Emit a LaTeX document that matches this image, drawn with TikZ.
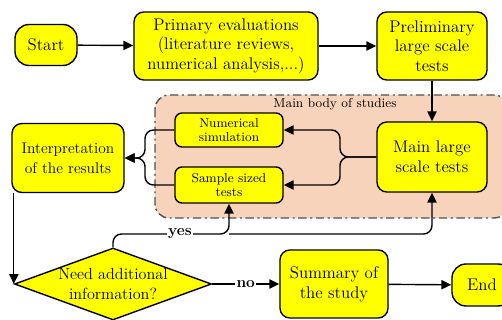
\documentclass[tikz,border=0pt]{standalone}
\usepackage{tikz}
\usetikzlibrary{arrows.meta,shapes.geometric,positioning,calc}
\definecolor{boxYellow}{RGB}{255,255,0}
\definecolor{studyPeach}{RGB}{248,211,188}
\definecolor{frameGray}{RGB}{80,80,80}
\tikzset{
  flowBox/.style={
    rectangle, rounded corners=7pt, draw=black, line width=1pt,
    fill=boxYellow, align=center, inner sep=2pt,
    font=\fontsize{12}{14}\selectfont
  },
  smallBox/.style={flowBox, rounded corners=5pt, font=\fontsize{9.2}{10.5}\selectfont},
  termBox/.style={flowBox, rounded corners=10pt},
  decisionBox/.style={
    diamond, draw=black, line width=1pt, fill=boxYellow, align=center,
    inner sep=0pt, aspect=2.7, font=\fontsize{11.5}{14}\selectfont
  },
  flowArrow/.style={-{Triangle[length=7pt,width=6.5pt]}, line width=1pt, color=black},
  answerLabel/.style={fill=white, inner sep=1pt, font=\fontsize{11}{12}\selectfont\bfseries}
}
\begin{document}
\begin{tikzpicture}
  \useasboundingbox (0,0) rectangle (12.55,-8);
  % main body frame
  \draw[fill=studyPeach, draw=frameGray, line width=1pt, rounded corners=10pt,
        dash pattern=on 6pt off 2.5pt on 1.5pt off 2.5pt]
    (3.875,-2.375) rectangle (12.7,-5.45);
  \node[font=\fontsize{9.2}{10.5}\selectfont] (bodylbl) at (8.375,-2.6) {Main body of studies};

  \node[termBox, minimum width=1.55cm, minimum height=1.025cm] (start) at (1.15,-1.125) {Start};
  \node[flowBox, minimum width=4.6cm, minimum height=1.7cm] (prim) at (5.65,-1.15)
    {Primary evaluations\\(literature reviews,\\numerical analysis,...)};
  \node[flowBox, minimum width=2.75cm, minimum height=1.7cm] (prel) at (10.8,-1.15)
    {Preliminary\\large scale\\tests};
  \node[flowBox, minimum width=2.75cm, minimum height=1.75cm] (mainlt) at (10.8,-3.925)
    {Main large\\scale tests};
  \node[smallBox, minimum width=2.7cm, minimum height=0.85cm] (numsim) at (5.725,-3.25)
    {Numerical\\simulation};
  \node[smallBox, minimum width=2.7cm, minimum height=0.9cm] (samp) at (5.725,-4.625)
    {Sample sized\\tests};
  \node[flowBox, minimum width=2.8cm, minimum height=1.725cm,
        font=\fontsize{11}{14}\selectfont] (interp) at (1.7,-3.95)
    {Interpretation\\of the results};
  \node[decisionBox, minimum width=4.925cm, minimum height=1.8cm] (need) at (2.825,-7.1)
    {Need additional\\information?};
  \node[flowBox, minimum width=2.7cm, minimum height=1.7cm] (summ) at (8.35,-7.1)
    {Summary of\\the study};
  \node[termBox, minimum width=1.5cm, minimum height=1.05cm] (finish) at (12.05,-7.125) {End};

  \coordinate (split) at (8.5,-3.925);
  \coordinate (merge) at (3.625,-3.95);
  \coordinate (yesj) at (5.725,-5.85);

  \draw[flowArrow] (start) -- (prim);
  \draw[flowArrow] (prim) -- (prel);
  \draw[flowArrow] (prel) -- (mainlt);
  \draw[flowArrow, rounded corners=6pt] (mainlt.west) -- (split) |- (numsim.east);
  \draw[flowArrow, rounded corners=6pt] (mainlt.west) -- (split) |- (samp.east);
  \draw[flowArrow, rounded corners=6pt] (numsim.west) -| (merge) -- (interp.east);
  \draw[flowArrow, rounded corners=6pt] (samp.west) -| (merge) -- (interp.east);
  \draw[flowArrow] (need.west |- interp.south) -- (need.west);
  \draw[flowArrow, rounded corners=6pt] (need.north) |- (yesj) -- (samp.south);
  \draw[flowArrow, rounded corners=6pt] (yesj) -| (mainlt.south);
  \node[answerLabel] (yeslbl) at (4.5,-5.85) {yes};
  \draw[flowArrow] (need.east) -- node[answerLabel] (nolbl) {no} (summ.west);
  \draw[flowArrow] (summ) -- (finish);
\end{tikzpicture}
\end{document}
